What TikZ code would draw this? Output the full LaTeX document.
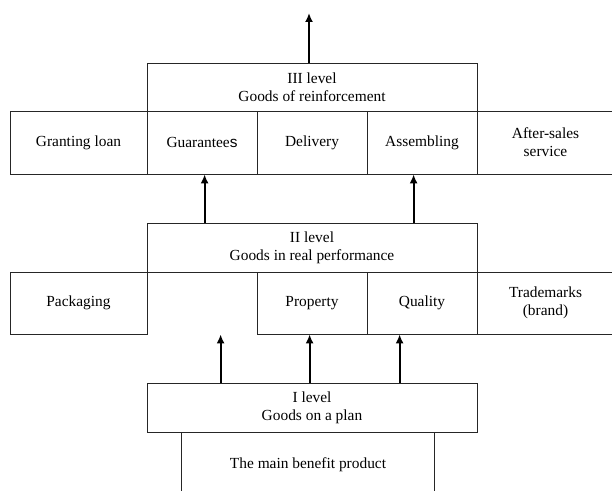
\documentclass[tikz,border=0pt]{standalone}
\usepackage{fontspec}
\setmainfont{Liberation Serif}
\newfontfamily\sansfam{Liberation Sans}
\usetikzlibrary{arrows.meta,calc}
\tikzset{
  cell/.style={draw=black!85, line width=0.8bp, inner sep=0pt, align=center,
    font=\fontsize{15.4bp}{17.7bp}\selectfont},
  plain/.style={inner sep=0pt, align=center, font=\fontsize{15.4bp}{17.7bp}\selectfont},
  arr/.style={line width=1.8bp, -{Latex[length=9bp,width=8bp]}},
  side/.style={draw=black!85, line width=0.8bp}
}
\begin{document}
\begin{tikzpicture}[x=1bp,y=-1bp]
\useasboundingbox (0,0) rectangle (612,491);
% level III
\node[cell, minimum width=330bp, minimum height=48bp] (III) at (312,87) {III level\\Goods of reinforcement};
\node[cell, minimum width=137bp, minimum height=63bp] (gl) at (78.5,142.5) {Granting loan};
\node[cell, minimum width=110bp, minimum height=63bp] (gu) at (202,142.5) {Guarantee{\sansfam s}};
\node[cell, minimum width=110bp, minimum height=63bp] (de) at (312,142.5) {Delivery};
\node[cell, minimum width=110bp, minimum height=63bp] (as) at (422,142.5) {Assembling};
\node[cell, minimum width=137bp, minimum height=63bp] (af) at (545.5,142.5) {After-sales\\service};
% level II
\node[cell, minimum width=330bp, minimum height=49bp] (II) at (312,247.5) {II level\\Goods in real performance};
\node[cell, minimum width=137bp, minimum height=62bp] (pk) at (78.5,303) {Packaging};
\node[cell, minimum width=110bp, minimum height=62bp] (pr) at (312,303) {Property};
\node[cell, minimum width=110bp, minimum height=62bp] (qu) at (422,303) {Quality};
\node[cell, minimum width=137bp, minimum height=62bp] (tm) at (545.5,303) {Trademarks\\(brand)};
% level I
\node[cell, minimum width=330bp, minimum height=49bp] (I) at (312,407.5) {I level\\Goods on a plan};
\node[plain, minimum width=252bp, minimum height=52bp] (mb) at (308,465) {The main benefit product};
\draw[side] (I.south -| mb.west) -- (mb.south west);
\draw[side] (I.south -| mb.east) -- (mb.south east);
% arrows
\coordinate (top) at (309,13);
\draw[arr] (top |- III.north) -- (top);
\draw[arr] ($(II.north west)+(58,0)$) coordinate (a1) -- (a1 |- gu.south);
\draw[arr] ($(II.north west)+(267,0)$) coordinate (a2) -- (a2 |- as.south);
\draw[arr] ($(I.north west)+(74,0)$) coordinate (b1) -- (b1 |- pk.south);
\draw[arr] ($(I.north west)+(163,0)$) coordinate (b2) -- (b2 |- pr.south);
\draw[arr] ($(I.north west)+(253,0)$) coordinate (b3) -- (b3 |- qu.south);
\end{tikzpicture}
\end{document}
